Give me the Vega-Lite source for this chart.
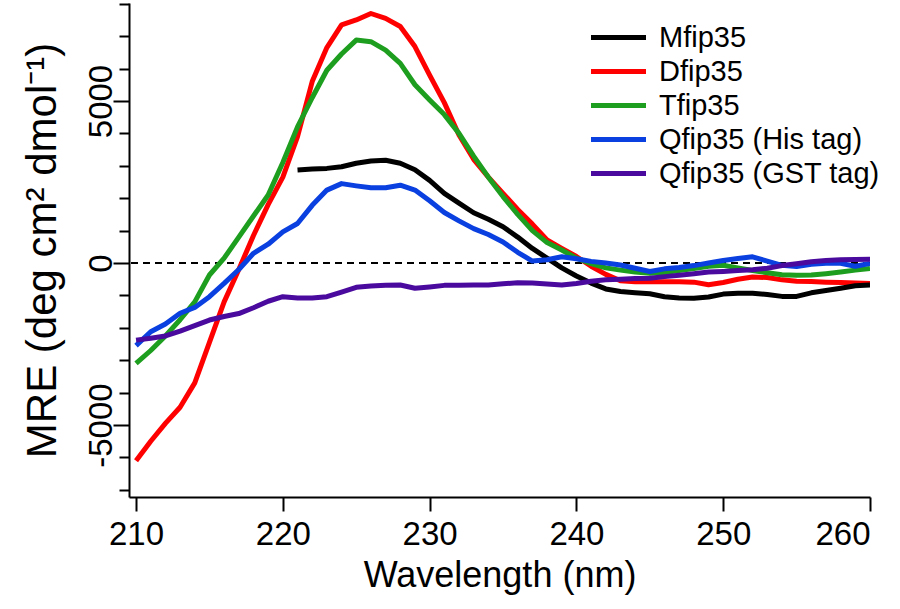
{
  "$schema": "https://vega.github.io/schema/vega-lite/v6.json",
  "width": 741,
  "height": 494,
  "autosize": {"type": "none"},
  "padding": {"left": 129, "top": 3, "right": 30, "bottom": 112},
  "config": {
    "view": {"stroke": null},
    "font": "Liberation Sans",
    "axis": {"grid": false, "domainColor": "black", "domainWidth": 2, "tickColor": "black", "tickWidth": 2, "labelColor": "black", "titleColor": "black", "labelFont": "Liberation Sans", "titleFont": "Liberation Sans", "titleFontWeight": "normal", "labelOverlap": false}
  },
  "datasets": {
    "cd": [
      {"s":"Dfip35","nm":210,"v":-6100},{"s":"Dfip35","nm":211,"v":-5500},{"s":"Dfip35","nm":212,"v":-4950},{"s":"Dfip35","nm":213,"v":-4450},{"s":"Dfip35","nm":214,"v":-3700},{"s":"Dfip35","nm":215,"v":-2450},{"s":"Dfip35","nm":216,"v":-1200},{"s":"Dfip35","nm":217,"v":-200},{"s":"Dfip35","nm":218,"v":850},{"s":"Dfip35","nm":219,"v":1800},{"s":"Dfip35","nm":220,"v":2650},{"s":"Dfip35","nm":221,"v":3900},{"s":"Dfip35","nm":222,"v":5600},{"s":"Dfip35","nm":223,"v":6650},{"s":"Dfip35","nm":224,"v":7350},{"s":"Dfip35","nm":225,"v":7500},{"s":"Dfip35","nm":226,"v":7700},{"s":"Dfip35","nm":227,"v":7550},{"s":"Dfip35","nm":228,"v":7300},{"s":"Dfip35","nm":229,"v":6680},{"s":"Dfip35","nm":230,"v":5800},{"s":"Dfip35","nm":231,"v":4950},{"s":"Dfip35","nm":232,"v":3950},{"s":"Dfip35","nm":233,"v":3200},{"s":"Dfip35","nm":234,"v":2650},{"s":"Dfip35","nm":235,"v":2150},{"s":"Dfip35","nm":236,"v":1650},{"s":"Dfip35","nm":237,"v":1200},{"s":"Dfip35","nm":238,"v":710},{"s":"Dfip35","nm":239,"v":450},{"s":"Dfip35","nm":240,"v":200},{"s":"Dfip35","nm":241,"v":-100},{"s":"Dfip35","nm":242,"v":-350},{"s":"Dfip35","nm":243,"v":-550},{"s":"Dfip35","nm":244,"v":-580},{"s":"Dfip35","nm":245,"v":-580},{"s":"Dfip35","nm":246,"v":-580},{"s":"Dfip35","nm":247,"v":-580},{"s":"Dfip35","nm":248,"v":-590},{"s":"Dfip35","nm":249,"v":-670},{"s":"Dfip35","nm":250,"v":-600},{"s":"Dfip35","nm":251,"v":-500},{"s":"Dfip35","nm":252,"v":-430},{"s":"Dfip35","nm":253,"v":-450},{"s":"Dfip35","nm":254,"v":-520},{"s":"Dfip35","nm":255,"v":-560},{"s":"Dfip35","nm":256,"v":-570},{"s":"Dfip35","nm":257,"v":-590},{"s":"Dfip35","nm":258,"v":-600},{"s":"Dfip35","nm":259,"v":-620},{"s":"Dfip35","nm":260,"v":-630},
      {"s":"Tfip35","nm":210,"v":-3100},{"s":"Tfip35","nm":211,"v":-2700},{"s":"Tfip35","nm":212,"v":-2250},{"s":"Tfip35","nm":213,"v":-1750},{"s":"Tfip35","nm":214,"v":-1200},{"s":"Tfip35","nm":215,"v":-370},{"s":"Tfip35","nm":216,"v":150},{"s":"Tfip35","nm":217,"v":800},{"s":"Tfip35","nm":218,"v":1450},{"s":"Tfip35","nm":219,"v":2100},{"s":"Tfip35","nm":220,"v":3100},{"s":"Tfip35","nm":221,"v":4200},{"s":"Tfip35","nm":222,"v":5100},{"s":"Tfip35","nm":223,"v":5950},{"s":"Tfip35","nm":224,"v":6450},{"s":"Tfip35","nm":225,"v":6880},{"s":"Tfip35","nm":226,"v":6830},{"s":"Tfip35","nm":227,"v":6570},{"s":"Tfip35","nm":228,"v":6160},{"s":"Tfip35","nm":229,"v":5500},{"s":"Tfip35","nm":230,"v":5030},{"s":"Tfip35","nm":231,"v":4580},{"s":"Tfip35","nm":232,"v":4000},{"s":"Tfip35","nm":233,"v":3300},{"s":"Tfip35","nm":234,"v":2650},{"s":"Tfip35","nm":235,"v":2050},{"s":"Tfip35","nm":236,"v":1500},{"s":"Tfip35","nm":237,"v":1000},{"s":"Tfip35","nm":238,"v":630},{"s":"Tfip35","nm":239,"v":400},{"s":"Tfip35","nm":240,"v":150},{"s":"Tfip35","nm":241,"v":-20},{"s":"Tfip35","nm":242,"v":-150},{"s":"Tfip35","nm":243,"v":-220},{"s":"Tfip35","nm":244,"v":-280},{"s":"Tfip35","nm":245,"v":-320},{"s":"Tfip35","nm":246,"v":-290},{"s":"Tfip35","nm":247,"v":-230},{"s":"Tfip35","nm":248,"v":-170},{"s":"Tfip35","nm":249,"v":-100},{"s":"Tfip35","nm":250,"v":-70},{"s":"Tfip35","nm":251,"v":-150},{"s":"Tfip35","nm":252,"v":-230},{"s":"Tfip35","nm":253,"v":-300},{"s":"Tfip35","nm":254,"v":-360},{"s":"Tfip35","nm":255,"v":-380},{"s":"Tfip35","nm":256,"v":-370},{"s":"Tfip35","nm":257,"v":-330},{"s":"Tfip35","nm":258,"v":-280},{"s":"Tfip35","nm":259,"v":-220},{"s":"Tfip35","nm":260,"v":-165},
      {"s":"Mfip35","nm":221,"v":2870},{"s":"Mfip35","nm":222,"v":2900},{"s":"Mfip35","nm":223,"v":2920},{"s":"Mfip35","nm":224,"v":2970},{"s":"Mfip35","nm":225,"v":3080},{"s":"Mfip35","nm":226,"v":3150},{"s":"Mfip35","nm":227,"v":3170},{"s":"Mfip35","nm":228,"v":3080},{"s":"Mfip35","nm":229,"v":2880},{"s":"Mfip35","nm":230,"v":2550},{"s":"Mfip35","nm":231,"v":2150},{"s":"Mfip35","nm":232,"v":1850},{"s":"Mfip35","nm":233,"v":1550},{"s":"Mfip35","nm":234,"v":1350},{"s":"Mfip35","nm":235,"v":1120},{"s":"Mfip35","nm":236,"v":800},{"s":"Mfip35","nm":237,"v":450},{"s":"Mfip35","nm":238,"v":150},{"s":"Mfip35","nm":239,"v":-150},{"s":"Mfip35","nm":240,"v":-400},{"s":"Mfip35","nm":241,"v":-620},{"s":"Mfip35","nm":242,"v":-800},{"s":"Mfip35","nm":243,"v":-880},{"s":"Mfip35","nm":244,"v":-920},{"s":"Mfip35","nm":245,"v":-950},{"s":"Mfip35","nm":246,"v":-1040},{"s":"Mfip35","nm":247,"v":-1080},{"s":"Mfip35","nm":248,"v":-1090},{"s":"Mfip35","nm":249,"v":-1050},{"s":"Mfip35","nm":250,"v":-960},{"s":"Mfip35","nm":251,"v":-930},{"s":"Mfip35","nm":252,"v":-930},{"s":"Mfip35","nm":253,"v":-970},{"s":"Mfip35","nm":254,"v":-1030},{"s":"Mfip35","nm":255,"v":-1030},{"s":"Mfip35","nm":256,"v":-920},{"s":"Mfip35","nm":257,"v":-850},{"s":"Mfip35","nm":258,"v":-780},{"s":"Mfip35","nm":259,"v":-700},{"s":"Mfip35","nm":260,"v":-680},
      {"s":"Qfip35 (His tag)","nm":210,"v":-2550},{"s":"Qfip35 (His tag)","nm":211,"v":-2120},{"s":"Qfip35 (His tag)","nm":212,"v":-1880},{"s":"Qfip35 (His tag)","nm":213,"v":-1550},{"s":"Qfip35 (His tag)","nm":214,"v":-1370},{"s":"Qfip35 (His tag)","nm":215,"v":-1040},{"s":"Qfip35 (His tag)","nm":216,"v":-630},{"s":"Qfip35 (His tag)","nm":217,"v":-200},{"s":"Qfip35 (His tag)","nm":218,"v":300},{"s":"Qfip35 (His tag)","nm":219,"v":580},{"s":"Qfip35 (His tag)","nm":220,"v":960},{"s":"Qfip35 (His tag)","nm":221,"v":1220},{"s":"Qfip35 (His tag)","nm":222,"v":1780},{"s":"Qfip35 (His tag)","nm":223,"v":2250},{"s":"Qfip35 (His tag)","nm":224,"v":2450},{"s":"Qfip35 (His tag)","nm":225,"v":2380},{"s":"Qfip35 (His tag)","nm":226,"v":2320},{"s":"Qfip35 (His tag)","nm":227,"v":2320},{"s":"Qfip35 (His tag)","nm":228,"v":2400},{"s":"Qfip35 (His tag)","nm":229,"v":2250},{"s":"Qfip35 (His tag)","nm":230,"v":1920},{"s":"Qfip35 (His tag)","nm":231,"v":1560},{"s":"Qfip35 (His tag)","nm":232,"v":1300},{"s":"Qfip35 (His tag)","nm":233,"v":1060},{"s":"Qfip35 (His tag)","nm":234,"v":880},{"s":"Qfip35 (His tag)","nm":235,"v":650},{"s":"Qfip35 (His tag)","nm":236,"v":330},{"s":"Qfip35 (His tag)","nm":237,"v":60},{"s":"Qfip35 (His tag)","nm":238,"v":100},{"s":"Qfip35 (His tag)","nm":239,"v":195},{"s":"Qfip35 (His tag)","nm":240,"v":130},{"s":"Qfip35 (His tag)","nm":241,"v":50},{"s":"Qfip35 (His tag)","nm":242,"v":0},{"s":"Qfip35 (His tag)","nm":243,"v":-60},{"s":"Qfip35 (His tag)","nm":244,"v":-160},{"s":"Qfip35 (His tag)","nm":245,"v":-260},{"s":"Qfip35 (His tag)","nm":246,"v":-180},{"s":"Qfip35 (His tag)","nm":247,"v":-140},{"s":"Qfip35 (His tag)","nm":248,"v":-80},{"s":"Qfip35 (His tag)","nm":249,"v":0},{"s":"Qfip35 (His tag)","nm":250,"v":80},{"s":"Qfip35 (His tag)","nm":251,"v":140},{"s":"Qfip35 (His tag)","nm":252,"v":190},{"s":"Qfip35 (His tag)","nm":253,"v":60},{"s":"Qfip35 (His tag)","nm":254,"v":-70},{"s":"Qfip35 (His tag)","nm":255,"v":-110},{"s":"Qfip35 (His tag)","nm":256,"v":-40},{"s":"Qfip35 (His tag)","nm":257,"v":-10},{"s":"Qfip35 (His tag)","nm":258,"v":-10},{"s":"Qfip35 (His tag)","nm":259,"v":-100},{"s":"Qfip35 (His tag)","nm":260,"v":-10},
      {"s":"Qfip35 (GST tag)","nm":210,"v":-2380},{"s":"Qfip35 (GST tag)","nm":211,"v":-2320},{"s":"Qfip35 (GST tag)","nm":212,"v":-2250},{"s":"Qfip35 (GST tag)","nm":213,"v":-2100},{"s":"Qfip35 (GST tag)","nm":214,"v":-1930},{"s":"Qfip35 (GST tag)","nm":215,"v":-1760},{"s":"Qfip35 (GST tag)","nm":216,"v":-1650},{"s":"Qfip35 (GST tag)","nm":217,"v":-1560},{"s":"Qfip35 (GST tag)","nm":218,"v":-1380},{"s":"Qfip35 (GST tag)","nm":219,"v":-1180},{"s":"Qfip35 (GST tag)","nm":220,"v":-1040},{"s":"Qfip35 (GST tag)","nm":221,"v":-1080},{"s":"Qfip35 (GST tag)","nm":222,"v":-1080},{"s":"Qfip35 (GST tag)","nm":223,"v":-1040},{"s":"Qfip35 (GST tag)","nm":224,"v":-900},{"s":"Qfip35 (GST tag)","nm":225,"v":-750},{"s":"Qfip35 (GST tag)","nm":226,"v":-710},{"s":"Qfip35 (GST tag)","nm":227,"v":-690},{"s":"Qfip35 (GST tag)","nm":228,"v":-680},{"s":"Qfip35 (GST tag)","nm":229,"v":-780},{"s":"Qfip35 (GST tag)","nm":230,"v":-740},{"s":"Qfip35 (GST tag)","nm":231,"v":-690},{"s":"Qfip35 (GST tag)","nm":232,"v":-690},{"s":"Qfip35 (GST tag)","nm":233,"v":-680},{"s":"Qfip35 (GST tag)","nm":234,"v":-680},{"s":"Qfip35 (GST tag)","nm":235,"v":-640},{"s":"Qfip35 (GST tag)","nm":236,"v":-610},{"s":"Qfip35 (GST tag)","nm":237,"v":-620},{"s":"Qfip35 (GST tag)","nm":238,"v":-650},{"s":"Qfip35 (GST tag)","nm":239,"v":-680},{"s":"Qfip35 (GST tag)","nm":240,"v":-630},{"s":"Qfip35 (GST tag)","nm":241,"v":-560},{"s":"Qfip35 (GST tag)","nm":242,"v":-520},{"s":"Qfip35 (GST tag)","nm":243,"v":-500},{"s":"Qfip35 (GST tag)","nm":244,"v":-480},{"s":"Qfip35 (GST tag)","nm":245,"v":-470},{"s":"Qfip35 (GST tag)","nm":246,"v":-420},{"s":"Qfip35 (GST tag)","nm":247,"v":-380},{"s":"Qfip35 (GST tag)","nm":248,"v":-330},{"s":"Qfip35 (GST tag)","nm":249,"v":-280},{"s":"Qfip35 (GST tag)","nm":250,"v":-260},{"s":"Qfip35 (GST tag)","nm":251,"v":-230},{"s":"Qfip35 (GST tag)","nm":252,"v":-210},{"s":"Qfip35 (GST tag)","nm":253,"v":-160},{"s":"Qfip35 (GST tag)","nm":254,"v":-80},{"s":"Qfip35 (GST tag)","nm":255,"v":-20},{"s":"Qfip35 (GST tag)","nm":256,"v":40},{"s":"Qfip35 (GST tag)","nm":257,"v":80},{"s":"Qfip35 (GST tag)","nm":258,"v":100},{"s":"Qfip35 (GST tag)","nm":259,"v":110},{"s":"Qfip35 (GST tag)","nm":260,"v":113}
    ]
  },
  "layer": [
    {
      "data": {"values": [{"zero": 0}]},
      "mark": {"type": "rule", "strokeDash": [7, 5], "strokeWidth": 2, "color": "black"},
      "encoding": {"y": {"field": "zero", "type": "quantitative"}}
    },
    {
      "data": {"name": "cd"},
      "mark": {"type": "line", "strokeWidth": 5, "strokeJoin": "round", "strokeCap": "butt", "clip": true},
      "encoding": {
        "x": {
          "field": "nm", "type": "quantitative",
          "scale": {"domain": [209.52, 260], "nice": false, "zero": false},
          "axis": {"values": [210, 220, 230, 240, 250, 260], "tickSize": 14, "labelFontSize": 33, "labelPadding": 7, "title": "Wavelength (nm)", "titleFontSize": 36, "titlePadding": 7}
        },
        "y": {
          "field": "v", "type": "quantitative",
          "scale": {"domain": [-7221, 8024], "nice": false, "zero": false},
          "axis": {
            "values": [-7000, -6000, -5000, -4000, -3000, -2000, -1000, 0, 1000, 2000, 3000, 4000, 5000, 6000, 7000, 8000],
            "labelExpr": "datum.value % 5000 === 0 ? '' + datum.value : ''",
            "labelOverlap": false,
            "tickCount": 16,
            "tickSize": {"condition": {"test": "datum.value % 5000 === 0", "value": 16}, "value": 10},
            "labelAngle": -90, "labelAlign": "center", "labelBaseline": "alphabetic",
            "labelFontSize": 33, "labelPadding": 2,
            "title": "MRE (deg cm² dmol⁻¹)", "titleFontSize": 42, "titlePadding": 21
          }
        },
        "color": {
          "field": "s", "type": "nominal",
          "scale": {
            "domain": ["Mfip35", "Dfip35", "Tfip35", "Qfip35 (His tag)", "Qfip35 (GST tag)"],
            "range": ["#000000", "#ff0000", "#1e9e1e", "#0a3fe0", "#4a0a9e"]
          },
          "legend": {
            "title": null, "orient": "none", "legendX": 475, "legendY": 20,
            "symbolType": "M-2.5,0H2.5", "symbolSize": 484, "symbolStrokeWidth": 5,
            "labelFontSize": 29, "labelFont": "Liberation Sans", "labelColor": "black", "labelLimit": 400,
            "labelOffset": 26, "rowPadding": 4, "padding": 0
          }
        }
      }
    }
  ]
}
